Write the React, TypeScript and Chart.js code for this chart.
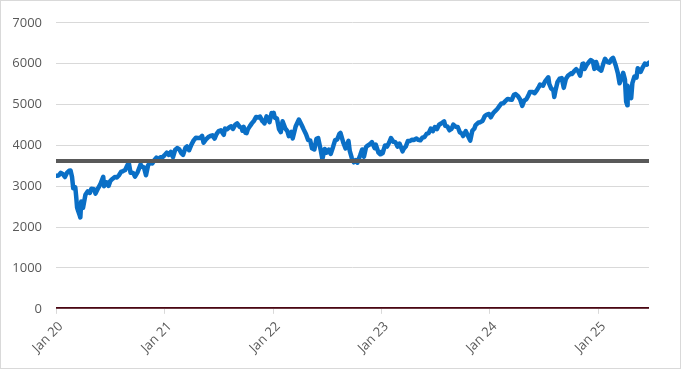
import React, { useEffect, useRef } from "react";
import { Chart, registerables } from "chart.js";

Chart.register(...registerables);

const dates: string[] = [
  "2020-01-02","2020-01-10","2020-01-17","2020-01-24","2020-01-31","2020-02-07","2020-02-14","2020-02-19","2020-02-24","2020-02-28",
  "2020-03-06","2020-03-09","2020-03-12","2020-03-16","2020-03-20","2020-03-23","2020-03-26","2020-04-01","2020-04-09","2020-04-17",
  "2020-04-24","2020-04-29","2020-05-08","2020-05-13","2020-05-22","2020-05-29","2020-06-08","2020-06-11","2020-06-19","2020-06-26",
  "2020-07-02","2020-07-10","2020-07-17","2020-07-24","2020-07-31","2020-08-07","2020-08-14","2020-08-21","2020-08-28","2020-09-02",
  "2020-09-08","2020-09-11","2020-09-18","2020-09-23","2020-10-02","2020-10-12","2020-10-16","2020-10-23","2020-10-30","2020-11-06",
  "2020-11-13","2020-11-20","2020-11-27","2020-12-04","2020-12-11","2020-12-18","2020-12-24","2020-12-31",
  "2021-01-08","2021-01-15","2021-01-22","2021-01-29","2021-02-05","2021-02-12","2021-02-19","2021-02-26","2021-03-04","2021-03-12",
  "2021-03-17","2021-03-24","2021-04-01","2021-04-09","2021-04-16","2021-04-23","2021-04-30","2021-05-07","2021-05-12","2021-05-21",
  "2021-05-28","2021-06-04","2021-06-11","2021-06-18","2021-06-25","2021-07-02","2021-07-09","2021-07-19","2021-07-23","2021-07-30",
  "2021-08-06","2021-08-13","2021-08-19","2021-08-27","2021-09-02","2021-09-10","2021-09-17","2021-09-20","2021-09-24","2021-09-30",
  "2021-10-04","2021-10-08","2021-10-15","2021-10-22","2021-10-29","2021-11-05","2021-11-12","2021-11-18","2021-11-26","2021-11-30",
  "2021-12-03","2021-12-10","2021-12-17","2021-12-20","2021-12-27","2021-12-31",
  "2022-01-03","2022-01-07","2022-01-14","2022-01-21","2022-01-27","2022-02-02","2022-02-11","2022-02-18","2022-02-23","2022-03-04",
  "2022-03-08","2022-03-18","2022-03-29","2022-04-08","2022-04-14","2022-04-22","2022-04-29","2022-05-06","2022-05-12","2022-05-20",
  "2022-05-27","2022-06-02","2022-06-10","2022-06-16","2022-06-24","2022-07-01","2022-07-08","2022-07-14","2022-07-22","2022-07-29",
  "2022-08-05","2022-08-12","2022-08-16","2022-08-26","2022-09-02","2022-09-12","2022-09-16","2022-09-23","2022-09-30","2022-10-07",
  "2022-10-12","2022-10-21","2022-10-28","2022-11-03","2022-11-10","2022-11-15","2022-11-23","2022-11-30","2022-12-09","2022-12-13",
  "2022-12-22","2022-12-28","2022-12-30",
  "2023-01-05","2023-01-13","2023-01-20","2023-01-27","2023-02-02","2023-02-10","2023-02-17","2023-02-24","2023-03-03","2023-03-13",
  "2023-03-17","2023-03-24","2023-03-31","2023-04-06","2023-04-14","2023-04-21","2023-04-28","2023-05-05","2023-05-12","2023-05-19",
  "2023-05-26","2023-06-02","2023-06-09","2023-06-16","2023-06-23","2023-06-30","2023-07-07","2023-07-14","2023-07-21","2023-07-31",
  "2023-08-04","2023-08-11","2023-08-18","2023-08-25","2023-08-31","2023-09-08","2023-09-15","2023-09-22","2023-09-29","2023-10-03",
  "2023-10-12","2023-10-20","2023-10-27","2023-11-03","2023-11-10","2023-11-14","2023-11-24","2023-11-30","2023-12-08","2023-12-15",
  "2023-12-22","2023-12-29",
  "2024-01-04","2024-01-12","2024-01-19","2024-01-26","2024-02-02","2024-02-09","2024-02-15","2024-02-23","2024-03-01","2024-03-08",
  "2024-03-15","2024-03-22","2024-03-28","2024-04-05","2024-04-12","2024-04-19","2024-04-26","2024-05-03","2024-05-10","2024-05-15",
  "2024-05-24","2024-05-31","2024-06-07","2024-06-14","2024-06-18","2024-06-28","2024-07-05","2024-07-16","2024-07-19","2024-07-25",
  "2024-08-02","2024-08-05","2024-08-09","2024-08-16","2024-08-23","2024-08-30","2024-09-06","2024-09-13","2024-09-20","2024-09-30",
  "2024-10-04","2024-10-11","2024-10-18","2024-10-25","2024-10-31","2024-11-08","2024-11-11","2024-11-15","2024-11-22","2024-11-29",
  "2024-12-06","2024-12-13","2024-12-18","2024-12-24","2024-12-31",
  "2025-01-10","2025-01-17","2025-01-23","2025-01-31","2025-02-07","2025-02-14","2025-02-19","2025-02-28","2025-03-07","2025-03-13",
  "2025-03-21","2025-03-25","2025-03-31","2025-04-04","2025-04-08","2025-04-09","2025-04-11","2025-04-21","2025-04-25","2025-05-02",
  "2025-05-09","2025-05-13","2025-05-23","2025-05-30","2025-06-06","2025-06-13","2025-06-20"
];

const values: number[] = [
  3258,3265,3330,3295,3226,3328,3380,3386,3226,2954,
  2972,2747,2481,2386,2305,2237,2630,2471,2790,2875,
  2837,2940,2930,2820,2955,3044,3232,3002,3098,3009,
  3130,3185,3225,3216,3271,3351,3372,3397,3508,3580,
  3331,3341,3319,3237,3348,3534,3483,3465,3270,3509,
  3585,3557,3638,3699,3663,3709,3703,3756,
  3824,3768,3841,3714,3887,3934,3907,3811,3768,3943,
  3974,3881,4020,4128,4185,4180,4181,4232,4063,4156,
  4204,4230,4247,4166,4281,4352,4370,4258,4412,4395,
  4437,4468,4405,4509,4537,4459,4433,4358,4455,4307,
  4300,4391,4471,4545,4605,4697,4683,4704,4595,4567,
  4538,4712,4620,4568,4791,4766,
  4796,4677,4662,4398,4326,4589,4418,4349,4225,4329,
  4170,4463,4632,4488,4392,4272,4132,4123,3930,3901,
  4158,4176,3901,3667,3912,3825,3899,3790,3962,4130,
  4145,4280,4305,4058,3924,4110,3873,3693,3586,3640,
  3577,3752,3901,3720,3956,3992,4027,4080,3934,4019,
  3822,3783,3840,
  3808,3999,3972,4071,4179,4090,4079,3970,4046,3855,
  3917,3971,4109,4105,4138,4133,4169,4136,4124,4191,
  4205,4282,4299,4410,4348,4450,4399,4505,4536,4589,
  4478,4464,4370,4406,4508,4457,4450,4320,4288,4229,
  4350,4224,4117,4358,4415,4496,4559,4568,4604,4719,
  4755,4770,
  4688,4784,4840,4891,4959,5027,5030,5089,5137,5124,
  5117,5235,5254,5204,5123,4967,5100,5128,5223,5308,
  5305,5278,5347,5432,5487,5460,5567,5667,5505,5399,
  5346,5186,5344,5554,5634,5648,5408,5626,5702,5762,
  5751,5815,5864,5808,5705,5995,6001,5870,5969,6032,
  6090,6051,5872,6040,5882,
  5827,5997,6119,6041,6026,6115,6144,5955,5770,5521,
  5667,5776,5612,5074,4983,5457,5363,5158,5525,5686,
  5660,5886,5802,5912,6000,5977,6025
];

const tickYears: number[] = [2020, 2021, 2022, 2023, 2024, 2025];
const tickLabels: string[] = ["Jan 20", "Jan 21", "Jan 22", "Jan 23", "Jan 24", "Jan 25"];
const referenceLevel = 3620;
const zeroLevel = 0;

const DAY = 86400000;
const ORIGIN = Date.UTC(2020, 0, 1);
const toDay = (s: string) => {
  const [y, m, d] = s.split("-").map(Number);
  return (Date.UTC(y, m - 1, d) - ORIGIN) / DAY;
};

export default function App() {
  const ref = useRef<HTMLCanvasElement | null>(null);
  useEffect(() => {
    document.body.style.margin = "0";
    const xs = dates.map(toDay);
    const xMin = 0;
    const xMax = xs[xs.length - 1];
    const tickDays = tickYears.map((y) => (Date.UTC(y, 0, 1) - ORIGIN) / DAY);
    const font = { family: "'Open Sans', 'Liberation Sans', sans-serif", size: 13 };
    const chart = new Chart(ref.current!, {
      type: "line",
      data: {
        datasets: [
          {
            label: "Index",
            data: xs.map((x, i) => ({ x, y: values[i] })),
            borderColor: "#0A6FC6",
            borderWidth: 4.5,
            borderJoinStyle: "round",
            borderCapStyle: "round",
            pointRadius: 0,
            tension: 0,
            order: 2,
          },
          {
            label: "Level",
            data: [ { x: xMin, y: referenceLevel }, { x: xMax, y: referenceLevel } ],
            borderColor: "#595959",
            borderWidth: 4,
            pointRadius: 0,
            order: 1,
          },
          {
            label: "Zero",
            data: [ { x: xMin, y: zeroLevel }, { x: xMax, y: zeroLevel } ],
            borderColor: "#4A0612",
            borderWidth: 3.5,
            pointRadius: 0,
            order: 0,
          },
        ],
      },
      options: {
        responsive: false,
        animation: false,
        layout: { padding: { top: 11, right: 31, left: 12, bottom: 7 } },
        plugins: { legend: { display: false }, tooltip: { enabled: false } },
        scales: {
          x: {
            type: "linear",
            min: xMin,
            max: xMax,
            afterBuildTicks: (scale: any) => {
              scale.ticks = tickDays.map((v) => ({ value: v }));
            },
            afterFit: (scale: any) => {
              scale.paddingLeft = 0;
              scale.paddingRight = 0;
            },
            ticks: {
              autoSkip: false,
              maxRotation: 45,
              minRotation: 45,
              color: "#595959",
              font,
              padding: 5,
              labelOffset: 5,
              callback: (v: any) => {
                const i = tickDays.indexOf(Number(v));
                return i >= 0 ? tickLabels[i] : "";
              },
            },
            grid: { display: true, drawOnChartArea: false, color: "#d9d9d9", tickLength: 5 },
            border: { display: false },
          },
          y: {
            min: 0,
            max: 7000,
            afterFit: (scale: any) => {
              scale.width = 43;
            },
            ticks: { stepSize: 1000, color: "#595959", font, padding: 14, callback: (v: any) => String(v) },
            grid: { color: "#d9d9d9", drawTicks: false },
            border: { display: false },
          },
        },
      },
    });
    return () => chart.destroy();
  }, []);
  return (
    <div style={{ width: 681, height: 369, boxSizing: "border-box", border: "1px solid #d9d9d9", background: "#fff" }}>
      <canvas ref={ref} width={679} height={367} style={{ display: "block" }} />
    </div>
  );
}
